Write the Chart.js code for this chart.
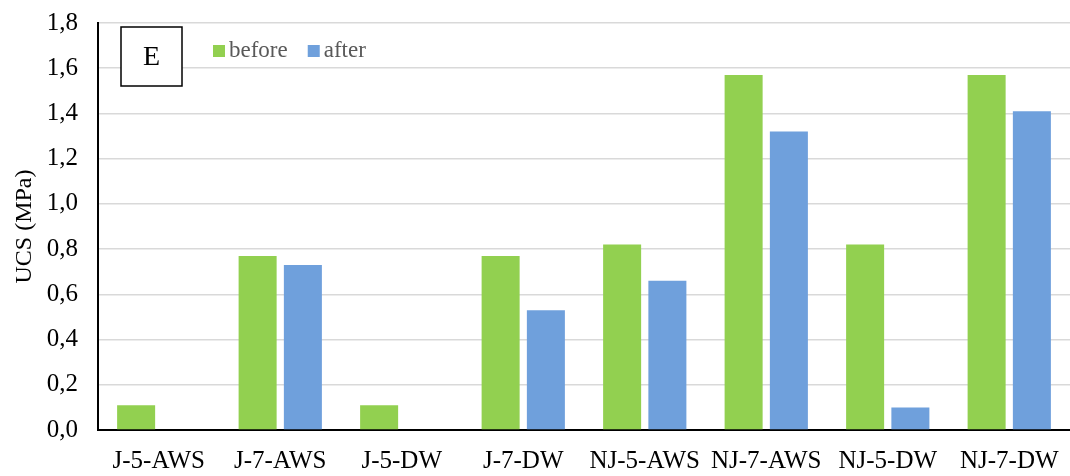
<!DOCTYPE html>
<html>
<head>
<meta charset="utf-8">
<script src="https://cdn.jsdelivr.net/npm/chart.js@4"></script>
<style>
  html, body { margin: 0; padding: 0; background: #fff; }
  #wrap { width: 1070px; height: 476px; overflow: hidden; }
  #inner { width: 1070px; height: 488px; margin-top: -12px; }
</style>
</head>
<body>
<div id="wrap"><div id="inner"><canvas id="ucsChart"></canvas></div></div>
<script>
// data
const categories = ['J-5-AWS', 'J-7-AWS', 'J-5-DW', 'J-7-DW', 'NJ-5-AWS', 'NJ-7-AWS', 'NJ-5-DW', 'NJ-7-DW'];
const beforeValues = [0.11, 0.77, 0.11, 0.77, 0.82, 1.57, 0.82, 1.57];
const afterValues = [0, 0.73, 0, 0.53, 0.66, 1.32, 0.10, 1.41];
const seriesNames = ['before', 'after'];
const panelLabel = 'E';

const serif = "'Liberation Serif', 'Times New Roman', serif";

// box with the panel letter + legend inside the plot
const panelPlugin = {
    id: 'panelBox',
    afterDraw(chart) {
        const ctx = chart.ctx;
        const area = chart.chartArea;
        ctx.save();
        // box
        const bx = area.left + 23, by = area.top + 4, bw = 61, bh = 59;
        ctx.fillStyle = '#fff';
        ctx.fillRect(bx, by, bw, bh);
        ctx.strokeStyle = '#000';
        ctx.lineWidth = 1.5;
        ctx.strokeRect(bx, by, bw, bh);
        ctx.fillStyle = '#000';
        ctx.font = '28px ' + serif;
        ctx.textAlign = 'center';
        ctx.textBaseline = 'middle';
        ctx.fillText(panelLabel, bx + bw / 2, by + bh / 2 + 1);

        // legend
        ctx.font = '23px ' + serif;
        ctx.textAlign = 'left';
        ctx.textBaseline = 'middle';
        let x = area.left + 115;
        const y = area.top + 28;
        chart.data.datasets.forEach(ds => {
            ctx.fillStyle = ds.backgroundColor;
            ctx.fillRect(x, y - 6, 12, 12);
            ctx.fillStyle = '#595959';
            ctx.fillText(ds.label, x + 16, y);
            x += 16 + ctx.measureText(ds.label).width + 20;
        });
        ctx.restore();
    }
};

const ctx = document.getElementById('ucsChart').getContext('2d');

new Chart(ctx, {
    type: 'bar',
    data: {
        labels: categories,
        datasets: [
            { label: seriesNames[0], data: beforeValues, backgroundColor: '#92D050' },
            { label: seriesNames[1], data: afterValues, backgroundColor: '#6FA0DC' }
        ]
    },
    options: {
        responsive: true,
        maintainAspectRatio: false,
        animation: false,
        devicePixelRatio: 1,
        layout: { padding: { top: 4, right: 0, left: 0, bottom: 0 } },
        datasets: {
            bar: { categoryPercentage: 0.745, barPercentage: 0.84 }
        },
        plugins: {
            legend: { display: false },
            tooltip: { enabled: false }
        },
        scales: {
            x: {
                grid: { display: false },
                border: { display: true, color: '#000', width: 2 },
                ticks: {
                    color: '#000',
                    font: { family: serif, size: 25 },
                    padding: 8,
                    maxRotation: 0,
                    autoSkip: false
                },
                afterFit(scale) { scale.height = 46; }
            },
            y: {
                min: 0,
                max: 1.8,
                ticks: {
                    stepSize: 0.2,
                    color: '#000',
                    font: { family: serif, size: 25 },
                    padding: 20,
                    callback: v => v.toFixed(1).replace('.', ',')
                },
                grid: { color: '#d9d9d9', lineWidth: 1.5, drawTicks: false },
                border: { display: true, color: '#000', width: 2 },
                title: {
                    display: true,
                    text: 'UCS (MPa)',
                    color: '#000',
                    font: { family: serif, size: 24 },
                    padding: { top: 10, bottom: 0 }
                },
                afterFit(scale) { scale.width = 98; }
            }
        }
    },
    plugins: [panelPlugin]
});
</script>
</body>
</html>
